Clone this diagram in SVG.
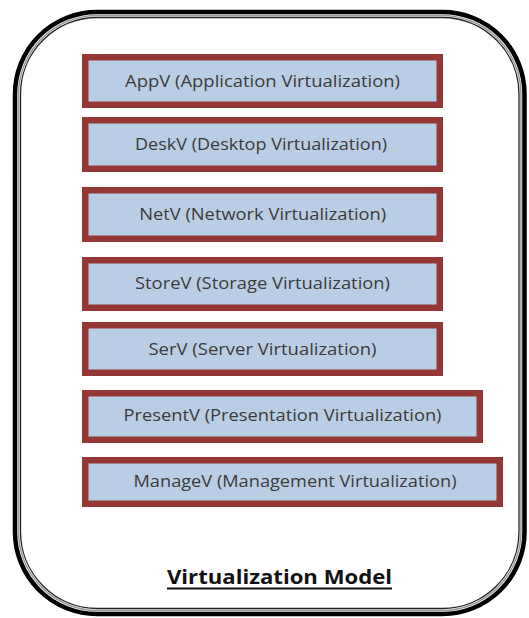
<svg xmlns="http://www.w3.org/2000/svg" width="529" height="618" viewBox="0 0 529 618">
  <style>
    .layer rect { fill: #b9cde5; stroke: #953735; stroke-width: 6.5; }
    .layer text { font-family: "Open Sans", "Liberation Sans", Arial, sans-serif; font-size: 16px; fill: #3b3b3b; text-anchor: middle; }
    .title { font-family: "Open Sans", "Liberation Sans", Arial, sans-serif; font-size: 19.5px; font-weight: bold; fill: #111; text-anchor: middle; }
  </style>
  <rect width="529" height="618" fill="#ffffff"/>

  <!-- rounded double frame -->
  <g id="frame" fill="none">
    <rect x="15" y="12" width="509.5" height="602" rx="82" ry="82" stroke="#000" stroke-width="4.5"/>
    <rect x="18.5" y="15.5" width="502.5" height="595" rx="79" ry="79" stroke="#9a9a9a" stroke-width="1.5"/>
    <rect x="20.5" y="17.5" width="498.5" height="591" rx="77" ry="77" stroke="#222" stroke-width="1.3"/>
  </g>

  <g id="appv" class="layer">
    <rect x="85.25" y="57.25" width="354.5" height="47.5"/>
    <text x="262.5" y="87" textLength="275" lengthAdjust="spacingAndGlyphs">AppV (Application Virtualization)</text>
  </g>
  <g id="deskv" class="layer">
    <rect x="85.25" y="120.25" width="354.5" height="48.5"/>
    <text x="261" y="150" textLength="252" lengthAdjust="spacingAndGlyphs">DeskV (Desktop Virtualization)</text>
  </g>
  <g id="netv" class="layer">
    <rect x="85.25" y="190.25" width="354.5" height="48.5"/>
    <text x="262.7" y="219.5" textLength="247" lengthAdjust="spacingAndGlyphs">NetV (Network Virtualization)</text>
  </g>
  <g id="storev" class="layer">
    <rect x="85.25" y="260.25" width="354.5" height="47.5"/>
    <text x="262.5" y="289" textLength="255" lengthAdjust="spacingAndGlyphs">StoreV (Storage Virtualization)</text>
  </g>
  <g id="serv" class="layer">
    <rect x="85.25" y="325.25" width="354.5" height="47.5"/>
    <text x="262.5" y="354.5" textLength="228" lengthAdjust="spacingAndGlyphs">SerV (Server Virtualization)</text>
  </g>
  <g id="presentv" class="layer">
    <rect x="85.25" y="393.25" width="394.5" height="46.5"/>
    <text x="282.5" y="421" textLength="318" lengthAdjust="spacingAndGlyphs">PresentV (Presentation Virtualization)</text>
  </g>
  <g id="managev" class="layer">
    <rect x="85.25" y="460.25" width="414.5" height="43.5"/>
    <text x="295" y="486.5" textLength="323" lengthAdjust="spacingAndGlyphs">ManageV (Management Virtualization)</text>
  </g>

  <g id="caption">
    <text class="title" x="279.5" y="584" textLength="225" lengthAdjust="spacingAndGlyphs">Virtualization Model</text>
    <line x1="167" y1="588.5" x2="392" y2="588.5" stroke="#111" stroke-width="2"/>
  </g>
</svg>
